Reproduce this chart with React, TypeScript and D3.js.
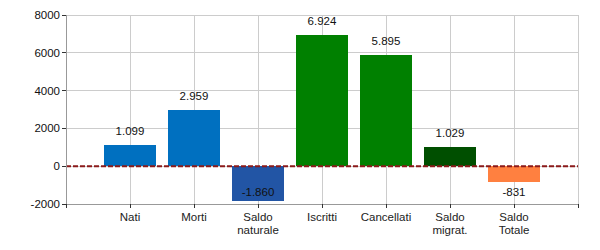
import React from "react";
import * as d3 from "d3";

const categories: string[][] = [["Nati"], ["Morti"], ["Saldo", "naturale"], ["Iscritti"], ["Cancellati"], ["Saldo", "migrat."], ["Saldo", "Totale"]];
const values: number[] = [1099, 2959, -1860, 6924, 5895, 1029, -831];
const colors: string[] = ["#0070c0", "#0070c0", "#2255a5", "#008000", "#008000", "#004f00", "#ff8040"];
const yTicks: number[] = [-2000, 0, 2000, 4000, 6000, 8000];
const xTicks: number[] = [0, 1, 2, 3, 4, 5, 6, 7, 8];

const W = 600, H = 250;
const left = 66, right = 578, top = 15, bottom = 204;

export default function App() {
  const x = d3.scaleLinear().domain([0, 8]).range([left, right]);
  const y = d3.scaleLinear().domain([-2000, 8000]).range([bottom, top]);
  const bw = x(0.8) - x(0);
  const fmt = (v: number) => d3.format(",")(v).replace(/,/g, ".").replace("\u2212", "-");
  const font = "'Liberation Sans', Arial, sans-serif";
  const fs = 11.5;
  return (
    <svg width={W} height={H} style={{ position: "absolute", left: 0, top: 0 }} fontFamily={font}>
      <rect width={W} height={H} fill="#fff" />
      {yTicks.map((t) => (
        <line key={"gy" + t} x1={left} x2={right} y1={y(t)} y2={y(t)} stroke="#cccccc" strokeWidth={1} shapeRendering="crispEdges" />
      ))}
      {xTicks.slice(1).map((t) => (
        <line key={"gx" + t} x1={x(t)} x2={x(t)} y1={top} y2={bottom} stroke="#cccccc" strokeWidth={1} shapeRendering="crispEdges" />
      ))}
      {values.map((v, i) => {
        const cx = x(i + 1);
        const y0 = y(0), y1 = y(v);
        return (
          <rect key={"b" + i} x={cx - bw / 2} width={bw} y={Math.min(y0, y1)} height={Math.abs(y1 - y0)} fill={colors[i]} shapeRendering="crispEdges" />
        );
      })}
      <line x1={left} x2={right} y1={y(0)} y2={y(0)} stroke="#8b1a1a" strokeWidth={2} strokeDasharray="5,2" />
      <line x1={left} x2={left} y1={top} y2={bottom} stroke="#999" shapeRendering="crispEdges" />
      <line x1={left} x2={right} y1={bottom} y2={bottom} stroke="#999" shapeRendering="crispEdges" />
      {yTicks.map((t) => (
        <g key={"ty" + t}>
          <line x1={left - 4} x2={left} y1={y(t)} y2={y(t)} stroke="#333" shapeRendering="crispEdges" />
          <text x={left - 6} y={y(t)} dy="0.35em" textAnchor="end" fontSize={fs} fill="#111">{t}</text>
        </g>
      ))}
      {xTicks.map((t) => (
        <line key={"tx" + t} x1={x(t)} x2={x(t)} y1={bottom} y2={bottom + 4} stroke="#333" shapeRendering="crispEdges" />
      ))}
      {categories.map((lines, i) => (
        <text key={"c" + i} x={x(i + 1)} y={221} textAnchor="middle" fontSize={fs} fill="#222">
          {lines.map((l, j) => (
            <tspan key={j} x={x(i + 1)} dy={j === 0 ? 0 : 12.5}>{l}</tspan>
          ))}
        </text>
      ))}
      {values.map((v, i) => {
        const cx = x(i + 1);
        const ly = v >= 0 ? y(v) - 10 : Math.min(y(v) + 18, 195.5);
        return (
          <text key={"l" + i} x={cx} y={ly} textAnchor="middle" fontSize={fs} fill="#111">{fmt(v)}</text>
        );
      })}
    </svg>
  );
}
